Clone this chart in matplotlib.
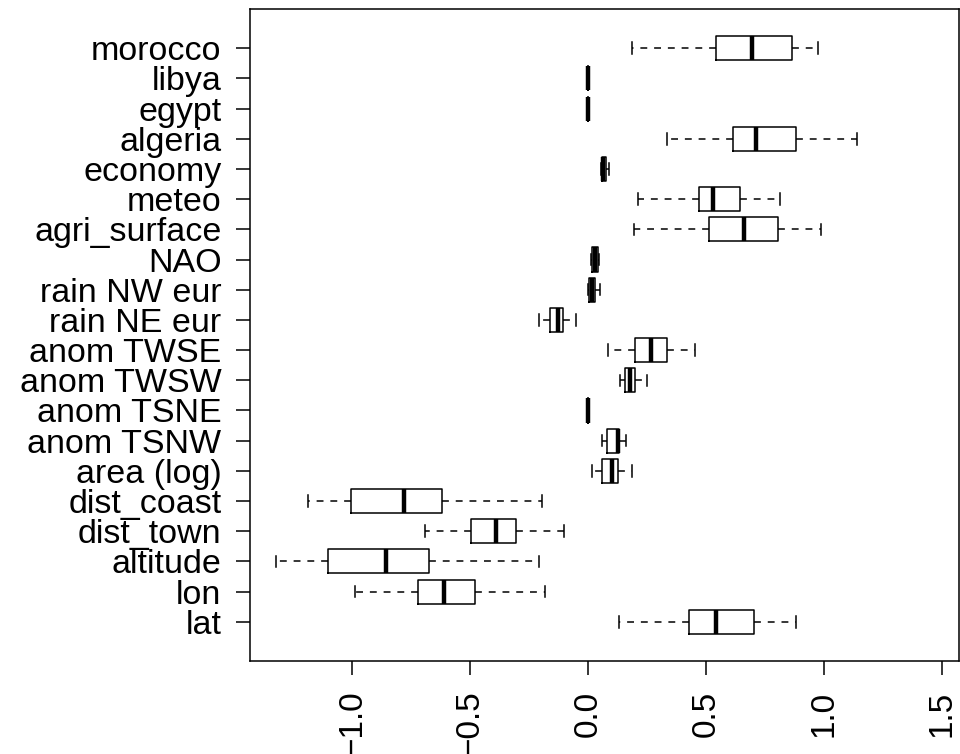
import matplotlib
matplotlib.use("Agg")
import matplotlib.pyplot as plt

plt.rcParams['font.family'] = ['Liberation Sans', 'DejaVu Sans']

# variables, bottom to top
labels = ["lat", "lon", "altitude", "dist_town", "dist_coast", "area (log)",
          "anom TSNW", "anom TSNE", "anom TWSW", "anom TWSE", "rain NE eur",
          "rain NW eur", "NAO", "agri_surface", "meteo", "economy", "algeria",
          "egypt", "libya", "morocco"]

whis_lo = [0.131, -0.990, -1.324, -0.694, -1.188, 0.017, 0.058, 0.0, 0.136, 0.083,
           -0.208, -0.001, 0.013, 0.196, 0.213, 0.054, 0.336, 0.0, 0.0, 0.186]
q1 = [0.427, -0.721, -1.103, -0.496, -1.007, 0.058, 0.081, 0.0, 0.158, 0.200,
      -0.161, 0.004, 0.018, 0.515, 0.471, 0.058, 0.615, 0.0, 0.0, 0.544]
med = [0.544, -0.613, -0.859, -0.390, -0.782, 0.102, 0.125, 0.0, 0.179, 0.265,
       -0.130, 0.015, 0.030, 0.663, 0.529, 0.065, 0.713, 0.0, 0.0, 0.694]
q3 = [0.704, -0.479, -0.675, -0.304, -0.621, 0.127, 0.131, 0.0, 0.200, 0.336,
      -0.107, 0.031, 0.040, 0.804, 0.646, 0.075, 0.880, 0.0, 0.0, 0.867]
whis_hi = [0.884, -0.185, -0.210, -0.104, -0.194, 0.185, 0.161, 0.0, 0.250, 0.454,
           -0.052, 0.051, 0.047, 0.990, 0.813, 0.090, 1.140, 0.0, 0.0, 0.975]

xticks = [-1.0, -0.5, 0.0, 0.5, 1.0, 1.5]

stats = []
for i in range(len(labels)):
    stats.append({"label": labels[i], "whislo": whis_lo[i], "q1": q1[i],
                  "med": med[i], "q3": q3[i], "whishi": whis_hi[i], "fliers": []})

fig = plt.figure(figsize=(9.6, 7.54), dpi=100)
ax = fig.add_axes([0.2604, 0.1237, 0.7386, 0.864])

positions = list(range(1, len(labels) + 1))
ax.bxp(stats, positions=positions, vert=False, widths=0.8, capwidths=0.38,
       showfliers=False,
       boxprops=dict(color="black", linewidth=1.1),
       medianprops=dict(color="black", linewidth=3.2, solid_capstyle="butt"),
       whiskerprops=dict(color="black", linewidth=1.1, linestyle=(0, (4.5, 4.5))),
       capprops=dict(color="black", linewidth=1.1))

ax.set_xlim(-1.435, 1.574)
ax.set_ylim(-0.29, 21.29)

ax.set_yticks(positions)
ax.set_yticklabels(labels, fontsize=24.5)
ax.set_xticks(xticks)
ax.set_xticklabels([("%.1f" % v).replace("-", "\u2212") for v in xticks],
                   fontsize=24, rotation=90)

ax.tick_params(axis='both', which='major', length=10, width=1.1, direction='out')
ax.tick_params(axis='y', pad=10.5)
ax.tick_params(axis='x', pad=11.5)
for s in ax.spines.values():
    s.set_linewidth(1.1)

fig.savefig("out.png", dpi=100)
